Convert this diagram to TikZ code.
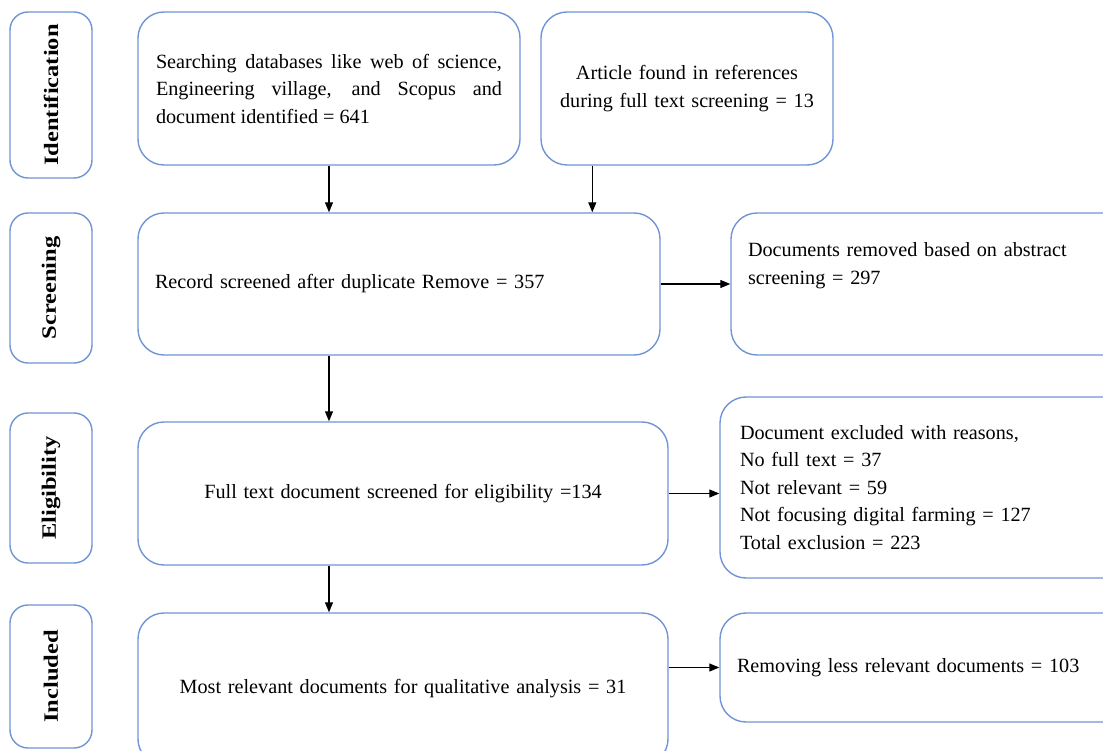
\documentclass[tikz,border=0pt]{standalone}
\usepackage{fontspec}
\setmainfont{Liberation Serif}
\usetikzlibrary{arrows.meta,positioning,calc}
\definecolor{boxblue}{RGB}{112,148,212}
\tikzset{
    flow/.style={-{Triangle[length=10pt, width=8pt]}, line width=1.2pt, black},
    stage/.style={draw=boxblue, line width=1.4pt, rounded corners=18pt, rotate=90, minimum height=82pt, inner sep=0pt, font=\bfseries\fontsize{20.4}{22}\selectfont},
    box/.style={draw=boxblue, line width=1.4pt, rounded corners=26pt, inner sep=0pt, font=\fontsize{20.2}{27.5}\selectfont}
}
\newcommand{\stagetext}[1]{\scalebox{1.2}[1]{#1}}

\begin{document}
\begin{tikzpicture}[x=1pt, y=-1pt]
    \useasboundingbox (0,0) rectangle (1103,751);
    \clip (0,0) rectangle (1103,751);

    % stage labels on the left
    \node[stage, minimum width=166pt] (ident) at (51,95) {\stagetext{Identification}};
    \node[stage, minimum width=150pt] (screen) at (51,288) {\stagetext{Screening}};
    \node[stage, minimum width=150pt] (elig-lab) at (51,488) {\stagetext{Eligibility}};
    \node[stage, minimum width=143pt] (incl-lab) at (51,676.5) {\stagetext{Included}};

    % main flow
    \node[box, minimum width=382pt, minimum height=153pt, text width=346pt, align=justify] (srch) at (329,88.5)
        {Searching databases like web of science,\linebreak Engineering village, and Scopus and\linebreak document identified = 641};
    \node[box, minimum width=292pt, minimum height=153pt, text width=260pt, align=center] (refs) at (687,88.5)
        {Article found in references\\during full text screening = 13};
    \node[box, minimum width=522pt, minimum height=142pt, text width=488pt, align=left] (scr) at (399,284)
        {Record screened after duplicate Remove = 357};
    \node[box, minimum width=404pt, minimum height=142pt, text width=370pt, align=left] (abst) at (933,284)
        {Documents removed based on abstract\\screening = 297\\[14pt]~};
    \node[box, minimum width=530pt, minimum height=143pt, text width=500pt, align=center] (elig) at (403,493.5)
        {Full text document screened for eligibility =134};
    \node[box, minimum width=415pt, minimum height=181pt, text width=375pt, align=left] (excl) at (927.5,487.5)
        {Document excluded with reasons,\\No full text = 37\\Not relevant = 59\\Not focusing digital farming = 127\\Total exclusion = 223};
    \node[box, minimum width=530pt, minimum height=152pt, text width=500pt, align=center] (incl) at (403,689)
        {Most relevant documents for qualitative analysis = 31};
    \node[box, minimum width=415pt, minimum height=109pt, text width=381pt, align=left] (rem) at (927.5,667.5)
        {Removing less relevant documents = 103};

    \coordinate (refs-out) at ([xshift=52pt]refs.south west);

    \draw[flow] (srch.south) -- (srch.south |- scr.north);
    \draw[flow] (refs-out) -- (refs-out |- scr.north);
    \draw[flow] (scr.east) -- (abst.west);
    \draw[flow] (scr.south -| srch.south) -- (elig.north -| srch.south);
    \draw[flow] (elig.east) -- (elig.east -| excl.west);
    \draw[flow] (elig.south -| srch.south) -- (incl.north -| srch.south);
    \draw[flow] (rem.west -| incl.east) -- (rem.west);
\end{tikzpicture}
\end{document}
